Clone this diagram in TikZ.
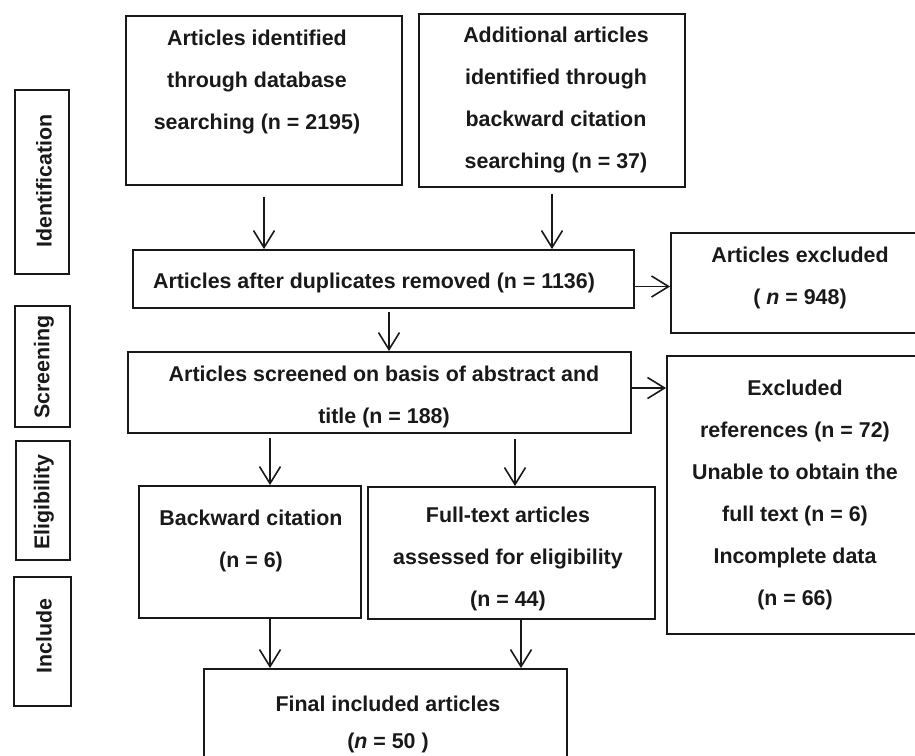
\documentclass[tikz,border=0pt]{standalone}
\usepackage{fontspec}
\setmainfont{Liberation Sans}
\usetikzlibrary{arrows.meta}
\begin{document}
\begin{tikzpicture}[x=1pt,y=-1pt,
  box/.style={draw=black!90, line width=1.9pt, rectangle, inner sep=0pt},
  txt/.style={align=center, inner sep=0pt, text=black!90, font=\fontsize{21.4}{42}\selectfont\bfseries},
  arr/.style={draw=black!90, line width=1.6pt, -{Straight Barb[length=17pt,width=21pt,line width=1.6pt]}}]
\useasboundingbox (0,0) rectangle (915,755);
\clip (0,0) rectangle (915,755);
% stage labels
\node[box, minimum width=54pt, minimum height=184pt] (lid) at (42,182) {};
\node[txt, rotate=90] (tid) at (44,181) {Identification};
\node[box, minimum width=55pt, minimum height=121pt] (lsc) at (42.5,366.5) {};
\node[txt, rotate=90] (tsc) at (44,367) {Screening};
\node[box, minimum width=54pt, minimum height=119pt] (lel) at (43,500.5) {};
\node[txt, rotate=90] (tel) at (44,502) {Eligibility};
\node[box, minimum width=57pt, minimum height=129pt] (lin) at (42.5,641.5) {};
\node[txt, rotate=90] (tin) at (44,636) {Include};
% boxes
\node[box, minimum width=276pt, minimum height=169pt] (db) at (264,100.5) {};
\node[txt] (tdb) at (257,82) {Articles identified\\through database\\searching (n = 2195)};
\node[box, minimum width=266pt, minimum height=173pt] (add) at (552,100.5) {};
\node[txt] (tadd) at (556,100) {Additional articles\\identified through\\backward citation\\searching (n = 37)};
\node[box, minimum width=501pt, minimum height=58pt] (dup) at (383.5,279) {};
\node[txt] (tdup) at (374,283) {Articles after duplicates removed (n = 1136)};
\node[box, minimum width=249pt, minimum height=100pt] (ex1) at (795.5,283) {};
\node[txt] (tex1) at (800,278) {Articles excluded\\( \textit{n} = 948)};
\node[box, minimum width=503pt, minimum height=81pt] (scr) at (379.5,392.5) {};
\node[txt] (tscr) at (384,397) {Articles screened on basis of abstract and\\title (n = 188)};
\node[box, minimum width=253pt, minimum height=278pt] (ex2) at (793.5,495) {};
\node[txt] (tex2) at (795,495) {Excluded\\references (n = 72)\\Unable to obtain the\\full text (n = 6)\\Incomplete data\\(n = 66)};
\node[box, minimum width=222pt, minimum height=132pt] (bwd) at (250,552) {};
\node[txt] (tbwd) at (251,541) {Backward citation\\(n = 6)};
\node[box, minimum width=287pt, minimum height=132pt] (ful) at (511.5,553) {};
\node[txt] (tful) at (508,559) {Full-text articles\\assessed for eligibility\\(n = 44)};
\node[box, minimum width=363pt, minimum height=111pt] (fin) at (385.5,724.5) {};
\node[txt, font=\fontsize{21.4}{37}\selectfont\bfseries] (tfin) at (388,724) {Final included articles\\(\textit{n} = 50 )};
% arrows
\coordinate (c389) at (389,312);
\coordinate (c270) at (270,0);
\coordinate (c515) at (515,0);
\coordinate (c521) at (521,0);
\coordinate (y286) at (0,286.5);
\coordinate (y388) at (0,388);
\draw[arr] ([yshift=-11pt]db.south) -- (db.south |- dup.north);
\draw[arr] ([yshift=-6pt]add.south) -- (add.south |- dup.north);
\draw[arr] (dup.east |- y286) -- (ex1.west |- y286);
\draw[arr] (c389) -- (c389 |- scr.north);
\draw[arr] (scr.east |- y388) -- (ex2.west |- y388);
\draw[arr] ([yshift=-4pt]c270 |- scr.south) -- (c270 |- bwd.north);
\draw[arr] ([yshift=-5pt]c515 |- scr.south) -- (c515 |- ful.north);
\draw[arr] (c270 |- bwd.south) -- (c270 |- fin.north);
\draw[arr] (c521 |- ful.south) -- (c521 |- fin.north);
\end{tikzpicture}
\end{document}
